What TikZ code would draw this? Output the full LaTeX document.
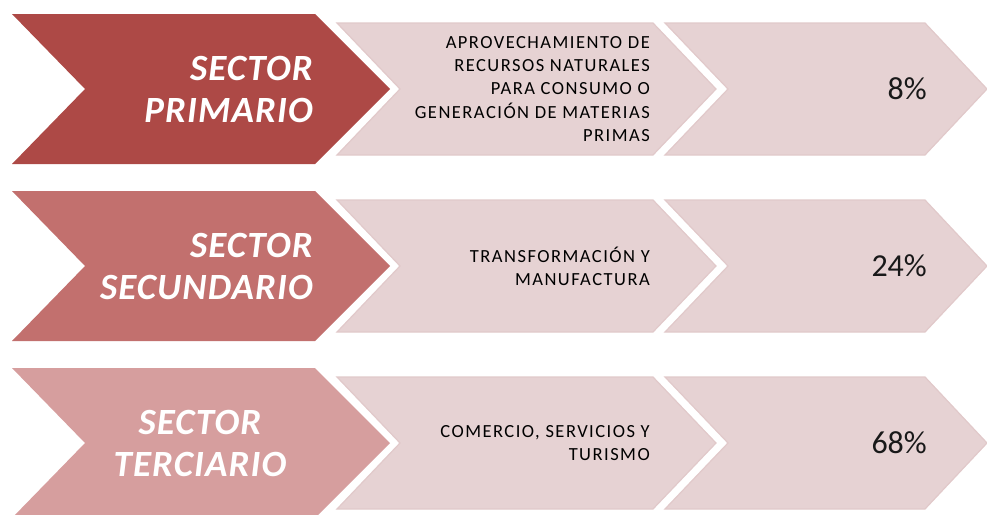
\documentclass[tikz,border=0pt]{standalone}
\usepackage{fontspec}
\setmainfont{Carlito}
\newfontfamily\sectorfont{Carlito}[LetterSpace=3]
\newfontfamily\descfont{Carlito}[LetterSpace=8]
\usetikzlibrary{positioning}
\definecolor{sectorA}{HTML}{AD4946}
\definecolor{sectorB}{HTML}{C2706E}
\definecolor{sectorC}{HTML}{D69E9E}
\definecolor{paleFill}{HTML}{E6D2D3}
\definecolor{paleLine}{HTML}{E1C9CA}
\definecolor{inkText}{HTML}{000000}

\begin{document}
\begin{tikzpicture}[x=1pt,y=-1pt,
  sectortext/.style={text=white, font=\sectorfont\fontsize{37}{42}\selectfont\bfseries\itshape},
  desctext/.style={text=inkText, font=\descfont\fontsize{18.5}{23.3}\selectfont, align=right, anchor=east, inner sep=0pt},
  pcttext/.style={text=inkText!90, font=\fontsize{32}{38}\selectfont, anchor=east, inner sep=0pt},
  pale/.style={fill=paleFill, draw=paleLine, line width=1.2pt}]
\useasboundingbox (0,0) rectangle (987,514);
% Rows: centre / colour / name / sector / description / share / anchor / x / align
\foreach \cy/\col/\n/\secname/\desc/\pct/\anc/\ax/\al in {
  89/sectorA/prim/{SECTOR\\PRIMARIO}/{APROVECHAMIENTO DE\\RECURSOS NATURALES\\PARA CONSUMO O\\GENERACIÓN DE MATERIAS\\PRIMAS}/8\%/east/313/right,
  266/sectorB/secu/{SECTOR\\SECUNDARIO}/{TRANSFORMACIÓN Y\\MANUFACTURA}/24\%/east/313/right,
  443/sectorC/terc/{SECTOR\\TERCIARIO}/{COMERCIO, SERVICIOS Y\\TURISMO}/68\%/center/200/center} {
  % Pale chevrons
  \draw[pale] (337,\cy-66) -- (653,\cy-66) -- (716,\cy) -- (653,\cy+66) -- (337,\cy+66) -- (400,\cy) -- cycle;
  \draw[pale] (665,\cy-66) -- (925,\cy-66) -- (987,\cy) -- (925,\cy+66) -- (665,\cy+66) -- (728,\cy) -- cycle;
  % Sector chevron
  \fill[\col] (12,\cy-75) -- (315,\cy-75) -- (390,\cy) -- (315,\cy+75) -- (12,\cy+75) -- (85,\cy) -- cycle;
  % Texts
  \node[sectortext, align=\al, anchor=\anc, inner sep=0pt] (\n-sector) at (\ax,\cy) {\secname};
  \node[desctext] (\n-desc) at (650,\cy) {\desc};
  \node[pcttext] (\n-share) at (927,\cy) {\pct};
}
\end{tikzpicture}
\end{document}
